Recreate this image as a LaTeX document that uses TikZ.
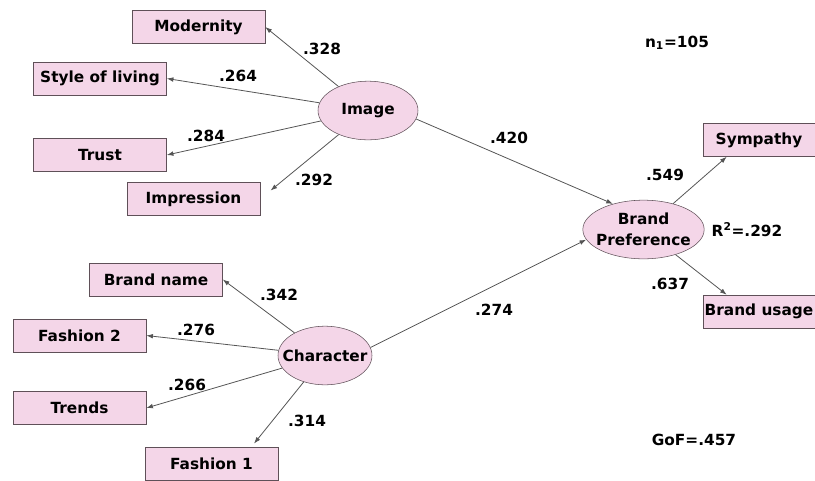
\documentclass[tikz,border=0pt]{standalone}
\usepackage{fontspec}
\setmainfont{DejaVu Sans}
\usetikzlibrary{arrows.meta}
\usetikzlibrary{shapes.geometric}
\definecolor{boxpink}{RGB}{244,214,232}
\definecolor{boxline}{RGB}{95,80,88}
\definecolor{arrowgray}{RGB}{85,85,85}
\tikzset{%
    indicator/.style={draw=boxline, fill=boxpink, minimum width=99.75pt, minimum height=24.75pt, inner sep=0pt, font=\fontsize{11.5}{13}\selectfont\bfseries},%
    construct/.style={ellipse, draw=boxline, fill=boxpink, inner xsep=-12pt, inner ysep=-4pt, minimum height=44pt, font=\fontsize{11.5}{16}\selectfont\bfseries},%
    loading/.style={inner sep=0.75pt, font=\fontsize{11.5}{13}\selectfont\bfseries},%
    conn/.style={draw=arrowgray, line width=0.6pt, -{Latex[length=5pt,width=3.5pt]}},%
}

\begin{document}
\begin{tikzpicture}[x=0.75pt,y=0.75pt,yscale=-1,xscale=1]
\useasboundingbox (0,0) rectangle (815,480);

% Indicators of Image
\node [indicator] (modern) at (198.5,27) {Modernity};
\node [indicator] (style) at (100,78.5) {Style of living};
\node [indicator] (trust) at (100,155) {Trust};
\node [indicator] (impr) at (193.5,199) {Impression};
% Indicators of Character
\node [indicator] (brandname) at (156,279.5) {Brand name};
\node [indicator] (fash2) at (79.5,335.5) {Fashion 2};
\node [indicator] (trends) at (79.5,408) {Trends};
\node [indicator] (fash1) at (211.5,463.5) {Fashion 1};
% Indicators of Brand Preference
\node [indicator, minimum width=84pt] (symp) at (759,140) {Sympathy};
\node [indicator, minimum width=84pt] (usage) at (759,311.5) {Brand usage};

% Constructs
\node [construct, minimum width=75pt] (img) at (368,110.5) {Image};
\node [construct, minimum width=70.5pt] (char) at (325,355.5) {Character};
\node [construct, minimum width=91pt, align=center] (bp) at (643.5,229.5) {Brand\\Preference};

% Connectors
\draw [conn] (img) -- (modern.east);
\draw [conn] (img) -- (style.east);
\draw [conn] (img) -- (trust.east);
\draw [conn, shorten >=10pt] (img) -- (impr.east);
\draw [conn] (img.-10) -- (bp.140);
\draw [conn] (char) -- (brandname.east);
\draw [conn] (char) -- (fash2.east);
\draw [conn] (char) -- (trends.east);
\draw [conn, shorten >=3pt] (char) -- ([xshift=30pt]fash1.north);
\draw [conn] (char.10) -- (bp.190);
\draw [conn] (bp) -- ([xshift=18pt]symp.south west);
\draw [conn] (bp) -- ([xshift=18pt]usage.north west);

% Text Node
\node [loading] (l328) at (322,49) {.328};
\node [loading] (l264) at (238,76) {.264};
\node [loading] (l284) at (206,136) {.284};
\node [loading] (l292) at (314,180) {.292};
\node [loading] (l420) at (509,138) {.420};
\node [loading] (l342) at (279,295) {.342};
\node [loading] (l276) at (196,330) {.276};
\node [loading] (l266) at (187,385) {.266};
\node [loading] (l314) at (307,421) {.314};
\node [loading] (l274) at (494,310) {.274};
\node [loading] (l549) at (665,175) {.549};
\node [loading] (l637) at (670,284) {.637};
\node [loading] (rsq) at (747,230) {R\textsuperscript{2}=.292};
% Text Node
\node [loading] (nsize) at (677,43) {n\textsubscript{1}=105};
\node [loading] (gof) at (694,440) {GoF=.457};

\end{tikzpicture}
\end{document}
